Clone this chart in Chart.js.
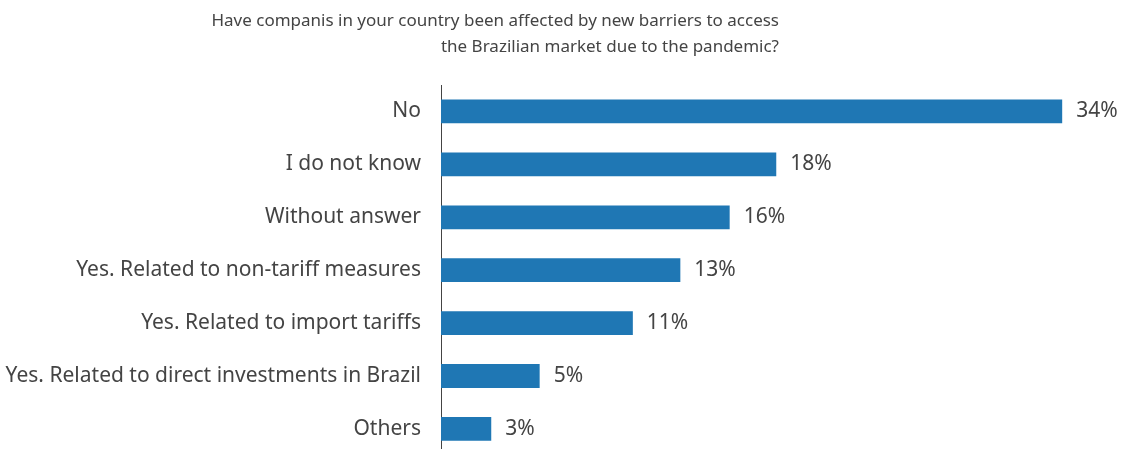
<!DOCTYPE html>
<html>
<head>
<meta charset="utf-8">
<script src="https://cdn.jsdelivr.net/npm/chart.js@4"></script>
<style>
  html, body { margin: 0; padding: 0; background: #fff; overflow: hidden; }
  #wrap { width: 1122px; height: 488px; position: relative; }
</style>
</head>
<body>
<div id="wrap"><canvas id="barChart"></canvas></div>
<script>
const categories = [
  "No",
  "I do not know",
  "Without answer",
  "Yes. Related to non-tariff measures",
  "Yes. Related to import tariffs",
  "Yes. Related to direct investments in Brazil",
  "Others",
];
const shares = [34.0, 18.35, 15.8, 13.1, 10.5, 5.4, 2.75];
const shareLabels = ["34%", "18%", "16%", "13%", "11%", "5%", "3%"];
const titleLines = [
  "Have companis in your country been affected by new barriers to access",
  "the Brazilian market due to the pandemic?",
];

const FONT = "'Noto Sans', 'Open Sans', sans-serif";
const TEXT = "#444444";

// title, right-aligned lines like the original
const titlePlugin = {
  id: "titleLines",
  afterDraw(chart) {
    const ctx = chart.ctx;
    ctx.save();
    ctx.font = "17px " + FONT;
    ctx.fillStyle = TEXT;
    ctx.textAlign = "right";
    ctx.textBaseline = "middle";
    ctx.fillText(titleLines[0], 779, 21);
    ctx.fillText(titleLines[1], 779, 47);
    ctx.restore();
  },
};

// value labels at the end of the bars
const valuePlugin = {
  id: "valueLabels",
  afterDatasetsDraw(chart) {
    const ctx = chart.ctx;
    const meta = chart.getDatasetMeta(0);
    ctx.save();
    ctx.font = "21px " + FONT;
    ctx.fillStyle = TEXT;
    ctx.textAlign = "left";
    ctx.textBaseline = "middle";
    meta.data.forEach((bar, i) => {
      ctx.fillText(shareLabels[i], bar.x + 14, bar.y);
    });
    ctx.restore();
  },
};

const ctx = document.getElementById("barChart").getContext("2d");
const barChart = new Chart(ctx, {
  type: "bar",
  data: {
    labels: categories,
    datasets: [
      {
        data: shares,
        backgroundColor: "#1f77b4",
        barPercentage: 0.45,
        categoryPercentage: 1,
      },
    ],
  },
  options: {
    indexAxis: "y",
    responsive: true,
    maintainAspectRatio: false,
    animation: false,
    layout: {
      padding: { top: 85, right: 5, bottom: 0, left: 0 },
    },
    plugins: {
      legend: { display: false },
      tooltip: { enabled: false },
    },
    scales: {
      x: {
        min: 0,
        max: 37,
        display: false,
      },
      y: {
        afterFit(scale) {
          scale.width = 441;
        },
        grid: { display: false, drawTicks: false },
        border: { display: true, color: "#444444", width: 1 },
        ticks: {
          color: TEXT,
          padding: 20,
          font: { family: FONT, size: 21 },
        },
      },
    },
  },
  plugins: [titlePlugin, valuePlugin],
});
</script>
</body>
</html>
